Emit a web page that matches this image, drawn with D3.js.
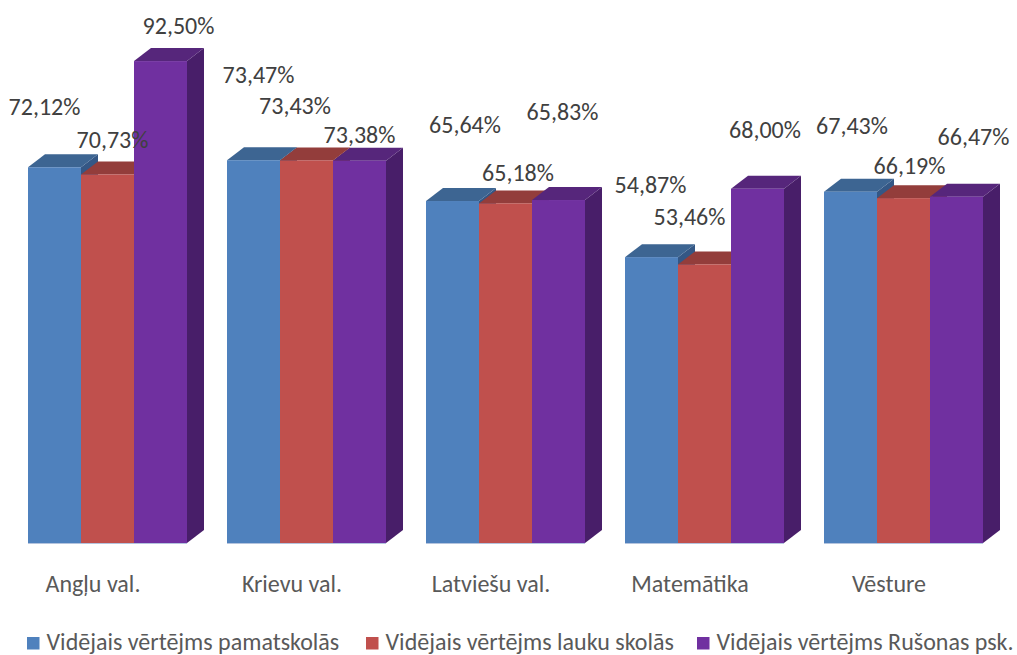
<!DOCTYPE html>
<html>
<head>
<meta charset="utf-8">
<script src="https://cdn.jsdelivr.net/npm/d3@7"></script>
<style>
  body { margin: 0; background: #fff; }
  svg { display: block; font-family: Carlito, Lato, "Open Sans", sans-serif; }
</style>
</head>
<body>
<svg width="1017" height="655"></svg>
<script>
const categories = ["Angļu val.", "Krievu val.", "Latviešu val.", "Matemātika", "Vēsture"]
const seriesNames = [
  "Vidējais vērtējms pamatskolās",
  "Vidējais vērtējms lauku skolās",
  "Vidējais vērtējms Rušonas psk."
]
const pamatskolas = [72.12, 73.47, 65.64, 54.87, 67.43]
const laukuSkolas = [70.73, 73.43, 65.18, 53.46, 66.19]
const rusonas = [92.50, 73.38, 65.83, 68.00, 66.47]
const seriesValues = [pamatskolas, laukuSkolas, rusonas]

// face colours: front, top, side
const colors = [
  {front: "#4f81bd", top: "#3d6592", side: "#345785"},
  {front: "#c0504d", top: "#933d3b", side: "#873634"},
  {front: "#7030a0", top: "#56267b", side: "#481e69"}
]

// where excel left each data label, relative to the top of its bar
const labelShift = [
  [[-10, -61], [5, -86], [12.5, -76.5], [-1, -72.6], [1.5, -66]],
  [[5, -35], [-11.5, -55], [12.5, -31], [-15, -47.6], [6, -33]],
  [[18, -35.6], [0, -26], [4, -89], [7.5, -59], [17, -60]]
]

const depthX = 17, depthY = 13

let svg = d3.select("svg")

let x0 = d3.scaleBand()
    .domain(categories)
    .range([28, 983])
    .paddingInner(40 / 199)

let x1 = d3.scaleBand()
    .domain(d3.range(seriesValues.length))
    .range([0, x0.bandwidth()])

let y = d3.scaleLinear()
    .domain([0, 100])
    .range([543, 22])

let fmt = v => v.toFixed(2).replace(".", ",") + "%"

let bars = []
categories.forEach((c, ci) => {
  seriesValues.forEach((vals, si) => {
    bars.push({cat: c, ci: ci, si: si, value: vals[ci]})
  })
})

let g = svg.append("g").attr("class", "bars")

bars.forEach(d => {
  let xl = x0(d.cat) + x1(d.si)
  let xr = xl + x1.bandwidth()
  let yt = y(d.value), yb = y(0)
  let col = colors[d.si]
  let bar = g.append("g")
  bar.append("polygon")
    .attr("points", [[xr, yt], [xr + depthX, yt - depthY], [xr + depthX, yb - depthY], [xr, yb]].join(" "))
    .attr("fill", col.side)
  bar.append("polygon")
    .attr("points", [[xl, yt], [xl + depthX, yt - depthY], [xr + depthX, yt - depthY], [xr, yt]].join(" "))
    .attr("fill", col.top)
  bar.append("rect")
    .attr("x", xl)
    .attr("y", yt)
    .attr("width", x1.bandwidth())
    .attr("height", yb - yt)
    .attr("fill", col.front)
})

// thin floor edge under each group
svg.append("g").selectAll("line")
  .data(categories)
  .enter().append("line")
    .attr("x1", d => x0(d))
    .attr("x2", d => x0(d) + x0.bandwidth())
    .attr("y1", y(0) + 0.5)
    .attr("y2", y(0) + 0.5)
    .attr("stroke", "#b4c4de")
    .attr("stroke-width", 1)

svg.append("g").selectAll("text")
  .data(bars)
  .enter().append("text")
    .attr("x", d => x0(d.cat) + x1(d.si) + x1.bandwidth() / 2 + labelShift[d.si][d.ci][0])
    .attr("y", d => y(d.value) + labelShift[d.si][d.ci][1])
    .attr("text-anchor", "middle")
    .attr("dominant-baseline", "central")
    .attr("font-size", 24)
    .attr("fill", "#404040")
    .text(d => fmt(d.value))

svg.append("g").selectAll("text")
  .data(categories)
  .enter().append("text")
    .attr("x", d => x0(d) + x0.bandwidth() / 2 - 14.5)
    .attr("y", 592)
    .attr("text-anchor", "middle")
    .attr("font-size", 24)
    .attr("fill", "#595959")
    .text(d => d)

let legendX = [27, 366, 697]
let legend = svg.append("g").selectAll("g")
  .data(seriesNames)
  .enter().append("g")
    .attr("transform", (d, i) => `translate(${legendX[i]},637)`)
legend.append("rect")
  .attr("width", 12.5)
  .attr("height", 12.5)
  .attr("fill", (d, i) => colors[i].front)
legend.append("text")
  .attr("x", 19.5)
  .attr("y", 13)
  .attr("font-size", 24)
  .attr("fill", "#595959")
  .text(d => d)
</script>
</body>
</html>
